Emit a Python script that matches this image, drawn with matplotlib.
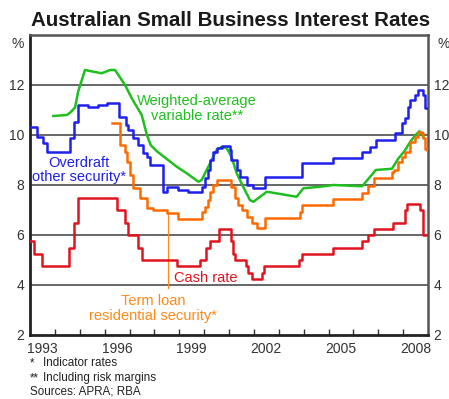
import matplotlib.pyplot as plt

# ---------------- DATA ----------------

# cash rate, change dates (decimal years) and new levels
cash_dates = [1993.0, 1993.17, 1993.5, 1994.58, 1994.75, 1994.92, 1996.5, 1996.83,
              1996.92, 1997.33, 1997.5, 1998.92, 1999.83, 2000.08, 2000.25, 2000.58,
              2001.08, 2001.17, 2001.25, 2001.67, 2001.75, 2001.92, 2002.33, 2002.42,
              2003.83, 2003.92, 2005.17, 2006.33, 2006.58, 2006.83, 2007.58, 2008.08,
              2008.17, 2008.67, 2008.78, 2008.9]
cash_rates = [5.75, 5.25, 4.75, 5.5, 6.5, 7.5, 7.0, 6.5,
              6.0, 5.5, 5.0, 4.75, 5.0, 5.5, 5.75, 6.25,
              5.75, 5.25, 5.0, 4.75, 4.5, 4.25, 4.5, 4.75,
              5.0, 5.25, 5.5, 5.75, 6.0, 6.25, 6.5, 7.0,
              7.25, 7.0, 6.0, 6.0]

# overdraft, other security
od_dates = [1993.0, 1993.27, 1993.53, 1993.67, 1994.6, 1994.75, 1994.92, 1995.35,
            1995.75, 1996.1, 1996.58, 1996.85, 1996.95, 1997.15, 1997.35, 1997.55,
            1997.69, 1997.82, 1998.36, 1998.5, 1998.96, 1999.36, 1999.9, 2000.03,
            2000.17, 2000.24, 2000.37, 2000.5, 2000.71, 2001.04, 2001.1, 2001.31,
            2001.44, 2001.71, 2001.98, 2002.45, 2003.92, 2005.19, 2006.33, 2006.67,
            2006.92, 2007.67, 2007.94, 2008.08, 2008.21, 2008.28, 2008.48, 2008.6,
            2008.78, 2008.86, 2008.96]
od_rates = [10.33, 9.93, 9.67, 9.33, 9.87, 10.53, 11.2, 11.12,
            11.2, 11.28, 10.73, 10.4, 10.2, 9.87, 9.6, 9.27,
            9.13, 8.8, 7.73, 7.93, 7.8, 7.73, 7.93, 8.27,
            8.6, 9.0, 9.33, 9.47, 9.55, 9.4, 9.0, 8.6,
            8.33, 8.0, 7.87, 8.33, 8.87, 9.1, 9.33, 9.53,
            9.8, 10.07, 10.47, 10.67, 11.13, 11.4, 11.6, 11.8,
            11.6, 11.1, 11.1]

# term loan, residential security
tl_dates = [1996.28, 1996.6, 1996.82, 1996.89, 1997.02, 1997.14, 1997.42, 1997.7,
            1997.94, 1998.5, 1998.96, 1999.9, 2000.03, 2000.17, 2000.24, 2000.37,
            2000.5, 2001.1, 2001.24, 2001.37, 2001.51, 2001.71, 2001.91, 2002.11,
            2002.45, 2003.85, 2003.95, 2005.18, 2006.33, 2006.58, 2006.83, 2007.54,
            2007.64, 2007.81, 2007.94, 2008.08, 2008.28, 2008.48, 2008.61, 2008.75,
            2008.81, 2008.88, 2008.96]
tl_rates = [10.47, 9.6, 9.33, 8.93, 8.4, 7.9, 7.5, 7.1,
            7.0, 6.88, 6.65, 6.93, 7.13, 7.4, 7.73, 8.0,
            8.2, 7.93, 7.47, 7.2, 7.0, 6.73, 6.47, 6.27,
            6.67, 6.93, 7.2, 7.45, 7.7, 7.95, 8.27, 8.53,
            8.6, 8.93, 9.13, 9.33, 9.73, 9.93, 10.13, 10.07,
            9.87, 9.45, 9.4]

# weighted-average variable rate
wa_dates = [1993.94, 1994.48, 1994.62, 1994.81, 1994.94, 1995.21, 1995.61, 1995.88,
            1996.22, 1996.42, 1996.82, 1997.09, 1997.49, 1997.7, 1997.85, 1998.1,
            1998.9, 1999.3, 1999.77, 1999.9, 2000.24, 2000.5, 2000.71, 2000.91,
            2001.1, 2001.31, 2001.57, 2001.84, 2001.98, 2002.25, 2002.52, 2003.72,
            2003.99, 2004.66, 2005.2, 2006.35, 2006.65, 2006.9, 2007.55, 2007.8,
            2008.05, 2008.3, 2008.5, 2008.65, 2008.8]
wa_rates = [10.76, 10.8, 10.9, 11.1, 11.75, 12.6, 12.52, 12.47,
            12.6, 12.6, 12.0, 11.47, 10.8, 10.0, 9.6, 9.35,
            8.73, 8.47, 8.13, 8.2, 8.87, 9.4, 9.53, 9.47,
            9.13, 8.47, 7.93, 7.4, 7.33, 7.53, 7.73, 7.53,
            7.87, 7.93, 8.0, 7.95, 8.3, 8.6, 8.65, 9.05,
            9.35, 9.75, 10.0, 10.15, 9.95]

label_years = [1993, 1996, 1999, 2002, 2005, 2008]
y_ticks = [2, 4, 6, 8, 10, 12]

# ---------------- COLOURS ----------------

GREEN = '#1fbf1f'
BLUE = '#1f1fee'
ORANGE = '#ff6a00'
ORANGE_TXT = '#ff8a1a'
RED = '#e0141e'

plt.rcParams['font.family'] = ['Liberation Sans', 'DejaVu Sans']

fig = plt.figure(figsize=(4.49, 3.99), dpi=100)
ax = fig.add_axes([30 / 449, 1 - 335 / 399, 398 / 449, 300 / 399])

# ---------------- LINES ----------------

for y in [4, 6, 8, 10, 12]:
    ax.axhline(y, color='#666666', lw=1.4, zorder=1)

ax.plot(wa_dates, wa_rates, color=GREEN, lw=1.8, zorder=3)
ax.step(od_dates, od_rates, where='post', color=BLUE, lw=1.8, zorder=3)
ax.step(tl_dates, tl_rates, where='post', color=ORANGE, lw=1.8, zorder=4)
ax.step(cash_dates, cash_rates, where='post', color=RED, lw=1.8, zorder=3)

# leader from the term loan label up to its line
ax.plot([1998.55, 1998.55], [3.88, 6.85], color=ORANGE_TXT, lw=0.9, zorder=2)

# ---------------- LABELS ----------------

ax.text(1999.71, 11.06, 'Weighted-average\nvariable rate**', color=GREEN,
        fontsize=10.5, ha='center', va='center', linespacing=1.1)
ax.text(1994.97, 8.6, 'Overdraft\nother security*', color=BLUE,
        fontsize=10.5, ha='center', va='center', linespacing=1.0)
ax.text(2000.08, 4.28, 'Cash rate', color=RED,
        fontsize=10.5, ha='center', va='center')
ax.text(1997.94, 3.06, 'Term loan\nresidential security*', color=ORANGE_TXT,
        fontsize=10.5, ha='center', va='center', linespacing=1.1)

# ---------------- AXES ----------------

ax.set_xlim(1993, 2009)
ax.set_ylim(2, 14)

ax.set_xticks(range(1994, 2009))
ax.set_xticklabels([])
ax.set_xticks([y + 0.5 for y in label_years], minor=True)
ax.set_xticklabels([str(y) for y in label_years], minor=True)
ax.tick_params(axis='x', which='major', direction='in', length=4, width=1, color='#333333')
ax.tick_params(axis='x', which='minor', length=0, pad=5, labelsize=10, labelcolor='#333333')

ax.set_yticks(y_ticks)
ax.tick_params(axis='y', length=0, labelsize=10, labelright=True, pad=4,
               labelcolor='#333333')

for side in ['left', 'bottom']:
    ax.spines[side].set_linewidth(2)
    ax.spines[side].set_color('#222222')
for side in ['top', 'right']:
    ax.spines[side].set_linewidth(1.8)
    ax.spines[side].set_color('#555555')

# ---------------- TEXT ----------------

fig.text(0.514, 1 - 21 / 399, 'Australian Small Business Interest Rates',
         fontsize=14.8, fontweight='bold', color='#1a1a1a', ha='center', va='center')
fig.text(18 / 449, 1 - 44 / 399, '%', fontsize=10, color='#333333', ha='center', va='center')
fig.text(444 / 449, 1 - 44 / 399, '%', fontsize=10, color='#333333', ha='center', va='center')

notes_x = 30 / 449
fig.text(notes_x, 1 - 363 / 399, '*', fontsize=8.4, color='#222222', va='center')
fig.text(43 / 449, 1 - 363 / 399, 'Indicator rates', fontsize=8.4, color='#222222', va='center')
fig.text(notes_x, 1 - 378 / 399, '**', fontsize=8.4, color='#222222', va='center')
fig.text(43 / 449, 1 - 378 / 399, 'Including risk margins', fontsize=8.4, color='#222222', va='center')
fig.text(notes_x, 1 - 392 / 399, 'Sources: APRA; RBA', fontsize=8.4, color='#222222', va='center')

fig.savefig('out.png', dpi=100)
